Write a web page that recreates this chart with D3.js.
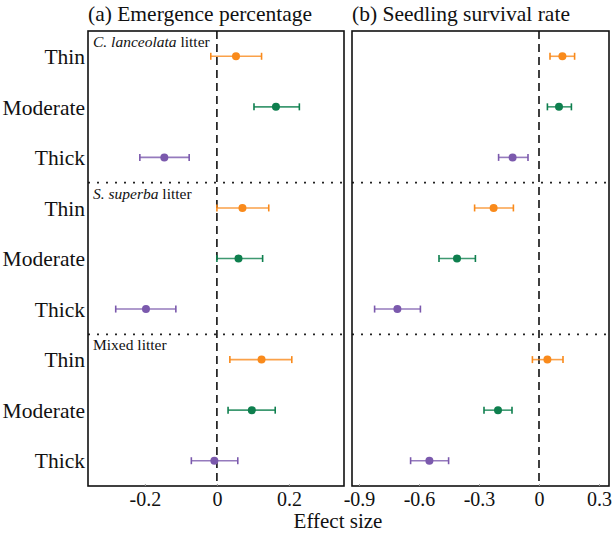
<!DOCTYPE html>
<html>
<head>
<meta charset="utf-8">
<script src="https://cdn.jsdelivr.net/npm/d3@7"></script>
<style>
  body { margin: 0; background: #fff; }
  text { font-family: "Liberation Serif", "Times New Roman", serif; fill: #111; }
</style>
</head>
<body>
<div id="chart"></div>
<script>
// rows top to bottom: 3 litter types x 3 thickness levels
var levels = ["Thin", "Moderate", "Thick"];
var litterTypes = ["C. lanceolata", "S. superba", "Mixed"];

// (a) emergence percentage: effect size and 95% CI
var emergMean = [0.053, 0.164, -0.146, 0.071, 0.060, -0.197, 0.124, 0.097, -0.007];
var emergLow  = [-0.017, 0.103, -0.214, 0.000, 0.000, -0.281, 0.036, 0.031, -0.071];
var emergHigh = [0.124, 0.229, -0.077, 0.144, 0.127, -0.114, 0.208, 0.162, 0.058];

// (b) seedling survival rate
var survMean = [0.117, 0.100, -0.132, -0.227, -0.410, -0.708, 0.042, -0.205, -0.548];
var survLow  = [0.055, 0.042, -0.202, -0.322, -0.500, -0.822, -0.033, -0.275, -0.642];
var survHigh = [0.178, 0.162, -0.055, -0.128, -0.318, -0.593, 0.120, -0.135, -0.452];

var ticksA = [-0.2, 0, 0.2];
var ticksB = [-0.9, -0.6, -0.3, 0, 0.3];

var colors = {Thin: "#f98a1b", Moderate: "#0e7f4e", Thick: "#7b59ad"};

var W = 614, H = 534;
var plotTop = 31, plotBottom = 486;

var svg = d3.select("#chart").append("svg")
    .attr("width", W).attr("height", H);

var rowKeys = d3.range(9);
var y = d3.scaleBand().domain(rowKeys).range([plotTop, plotBottom]);

function rowsFor(mean, low, high) {
    return rowKeys.map(function(i) {
        return {i: i, level: levels[i % 3], m: mean[i], lo: low[i], hi: high[i]};
    });
}

function panel(opts) {
    var x = d3.scaleLinear().domain(opts.domain).range([opts.x0, opts.x1]);
    var g = svg.append("g");
    var rows = rowsFor(opts.mean, opts.low, opts.high);

    // group separators
    [3, 6].forEach(function(k) {
        var yy = y(k);
        g.append("line")
            .attr("x1", opts.x0).attr("x2", opts.x1)
            .attr("y1", yy).attr("y2", yy)
            .attr("stroke", "#222").attr("stroke-width", 1.6)
            .attr("stroke-dasharray", "2,7");
    });

    // zero reference
    g.append("line")
        .attr("x1", x(0)).attr("x2", x(0))
        .attr("y1", plotTop).attr("y2", plotBottom)
        .attr("stroke", "#111").attr("stroke-width", 1.6)
        .attr("stroke-dasharray", "8,5");

    // error bars
    var eb = g.selectAll("g.eb").data(rows).enter().append("g").attr("class", "eb");
    eb.append("line")
        .attr("x1", function(d) { return x(d.lo); })
        .attr("x2", function(d) { return x(d.hi); })
        .attr("y1", function(d) { return y(d.i) + y.bandwidth() / 2; })
        .attr("y2", function(d) { return y(d.i) + y.bandwidth() / 2; })
        .attr("stroke", function(d) { return colors[d.level]; })
        .attr("stroke-opacity", 0.8)
        .attr("stroke-width", 1.6);
    ["lo", "hi"].forEach(function(k) {
        eb.append("line")
            .attr("x1", function(d) { return x(d[k]); })
            .attr("x2", function(d) { return x(d[k]); })
            .attr("y1", function(d) { return y(d.i) + y.bandwidth() / 2 - 3.5; })
            .attr("y2", function(d) { return y(d.i) + y.bandwidth() / 2 + 3.5; })
            .attr("stroke", function(d) { return colors[d.level]; })
            .attr("stroke-width", 1.6);
    });
    eb.append("circle")
        .attr("cx", function(d) { return x(d.m); })
        .attr("cy", function(d) { return y(d.i) + y.bandwidth() / 2; })
        .attr("r", 4)
        .attr("fill", function(d) { return colors[d.level]; });

    // frame
    g.append("rect")
        .attr("x", opts.x0).attr("y", plotTop)
        .attr("width", opts.x1 - opts.x0).attr("height", plotBottom - plotTop)
        .attr("fill", "none").attr("stroke", "#111").attr("stroke-width", 1.6);

    // bottom axis
    var ax = g.append("g")
        .attr("transform", "translate(0," + plotBottom + ")")
        .call(d3.axisBottom(x).tickValues(opts.ticks).tickSize(-2).tickPadding(5)
              .tickFormat(function(d) { return d === 0 ? "0" : d3.format(".1f")(d).replace("−", "-"); }));
    ax.select(".domain").remove();
    ax.selectAll("line").attr("stroke", "#999");
    ax.selectAll("text")
        .style("font-family", "Liberation Serif, serif")
        .style("font-size", "20px").attr("fill", "#111").attr("dy", "0.76em");

    // title
    svg.append("text")
        .attr("x", opts.x0).attr("y", 21)
        .style("font-size", "21.5px")
        .text(opts.title);

    return g;
}

panel({x0: 88, x1: 344, domain: [-0.358, 0.353], ticks: ticksA,
       mean: emergMean, low: emergLow, high: emergHigh,
       title: "(a) Emergence percentage"});
panel({x0: 352, x1: 609, domain: [-0.935, 0.35], ticks: ticksB,
       mean: survMean, low: survLow, high: survHigh,
       title: "(b) Seedling survival rate"});

// y labels
svg.append("g").selectAll("text").data(rowKeys).enter().append("text")
    .attr("x", 85)
    .attr("y", function(i) { return y(i) + y.bandwidth() / 2; })
    .attr("dy", "0.36em")
    .attr("text-anchor", "end")
    .style("font-size", "21.5px")
    .text(function(i) { return levels[i % 3]; });

// litter type labels inside panel a
litterTypes.forEach(function(name, k) {
    var t = svg.append("text")
        .attr("x", 93).attr("y", y(k * 3) + 16)
        .style("font-size", "15.5px");
    if (name === "Mixed") {
        t.text("Mixed litter");
    } else {
        t.append("tspan").style("font-style", "italic").text(name);
        t.append("tspan").text(" litter");
    }
});

// x axis title
svg.append("text")
    .attr("x", 338).attr("y", 528)
    .attr("text-anchor", "middle")
    .style("font-size", "21px")
    .text("Effect size");
</script>
</body>
</html>
